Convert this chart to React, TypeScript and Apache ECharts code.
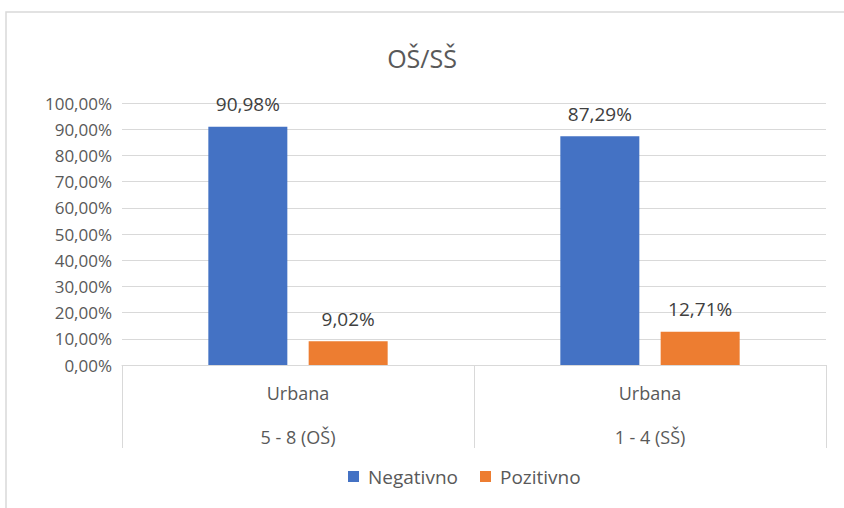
import React, { useEffect, useRef } from "react";
import * as echarts from "echarts";

const categories = ["Urbana\n5 - 8 (OŠ)", "Urbana\n1 - 4 (SŠ)"];
const negativno = [90.98, 87.29];
const pozitivno = [9.02, 12.71];
const yTicks = [0, 10, 20, 30, 40, 50, 60, 70, 80, 90, 100];

const FONT = "'Open Sans', 'Noto Sans', sans-serif";
const fmt = (v: number) => v.toFixed(2).replace(".", ",") + "%";

export default function App() {
  const ref = useRef<HTMLDivElement>(null);
  useEffect(() => {
    if (!ref.current) return;
    const chart = echarts.init(ref.current, undefined, { renderer: "svg" });
    const label = {
      show: true,
      position: "top",
      distance: 13,
      fontFamily: FONT,
      fontSize: 19,
      color: "#404040",
      formatter: (p: any) => fmt(p.value),
    };
    chart.setOption({
      animation: false,
      backgroundColor: "#fff",
      textStyle: { fontFamily: FONT },
      graphic: [
        {
          type: "rect",
          shape: { x: 6, y: 12, width: 900, height: 600 },
          style: { fill: "none", stroke: "#d9d9d9", lineWidth: 1.5 },
          silent: true,
        },
      ],
      title: {
        text: "OŠ/SŠ",
        left: "center",
        top: 40,
        textStyle: { fontFamily: FONT, fontSize: 25, fontWeight: "normal", color: "#595959" },
      },
      legend: {
        top: 462,
        left: 343,
        itemWidth: 11,
        itemHeight: 11,
        itemGap: 22,
        icon: "rect",
        textStyle: { fontFamily: FONT, fontSize: 19, color: "#595959", padding: [0, 0, 0, 4] },
        data: ["Negativno", "Pozitivno"],
      },
      grid: { left: 122, right: 18, top: 103, bottom: 143, containLabel: false },
      xAxis: {
        type: "category",
        data: categories,
        axisLine: { lineStyle: { color: "#d9d9d9" } },
        axisTick: { show: true, length: 83, lineStyle: { color: "#d9d9d9" } },
        axisLabel: {
          fontFamily: FONT,
          fontSize: 18,
          color: "#595959",
          lineHeight: 44,
          margin: 6,
        },
      },
      yAxis: {
        type: "value",
        min: 0,
        max: 100,
        interval: 10,
        axisLine: { show: false },
        axisTick: { show: false },
        splitLine: { lineStyle: { color: "#d9d9d9" } },
        axisLabel: {
          fontFamily: FONT,
          fontSize: 17,
          color: "#595959",
          margin: 10,
          formatter: (v: number) => (yTicks.includes(v) ? fmt(v) : ""),
        },
      },
      series: [
        {
          name: "Negativno",
          type: "bar",
          data: negativno,
          barWidth: 79,
          barGap: "27%",
          itemStyle: { color: "#4472C4" },
          label,
        },
        {
          name: "Pozitivno",
          type: "bar",
          data: pozitivno,
          barWidth: 79,
          barGap: "27%",
          itemStyle: { color: "#ED7D31" },
          label,
        },
      ],
    });
    return () => chart.dispose();
  }, []);
  return (
    <div
      ref={ref}
      style={{ position: "absolute", left: 0, top: 0, width: 844, height: 508 }}
    />
  );
}
